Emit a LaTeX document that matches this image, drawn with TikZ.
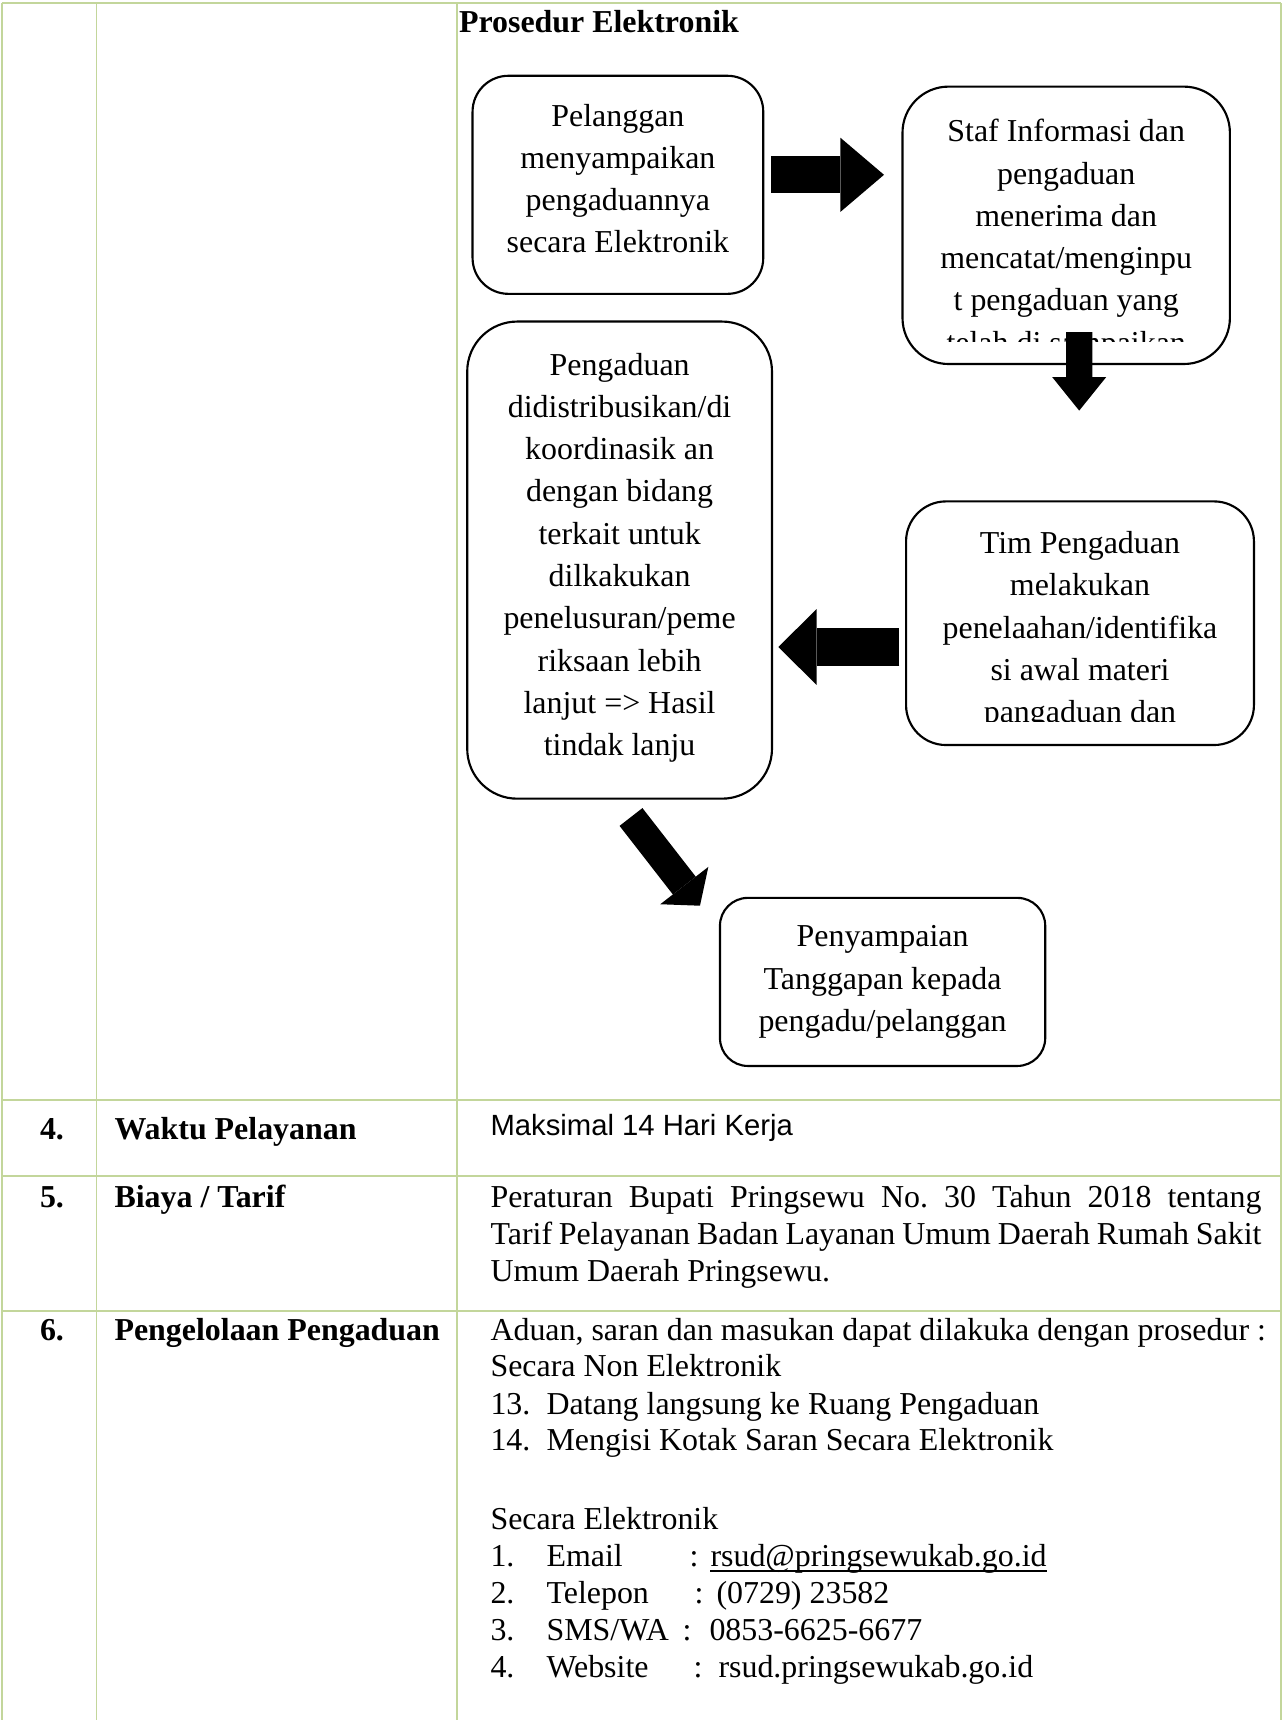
\documentclass[tikz,border=0pt]{standalone}
\usepackage{fontspec}
\setmainfont{Liberation Serif}
\newfontfamily\arialfont{Liberation Sans}
\usetikzlibrary{arrows.meta}
\definecolor{GridGreen}{HTML}{C3D69B}
\frenchspacing
\tikzset{
  gridline/.style={draw=GridGreen,line width=0.75pt},
  flowbox/.style={rectangle,draw=black,line width=0.8pt,inner sep=0pt,outer sep=0pt},
  boxtxt/.style={font=\fontsize{12}{15.9}\selectfont,align=center,anchor=base,inner sep=0pt},
  celltxt/.style={font=\fontsize{12}{14}\selectfont,anchor=base west,inner sep=0pt},
  cellhead/.style={celltxt,font=\fontsize{12}{14}\selectfont\bfseries},
  blockarr/.style={draw=black,line width=#1,line cap=butt},
}

\begin{document}
\begin{tikzpicture}[x=0.376pt,y=-0.376pt]
  \useasboundingbox (0,0) rectangle (1283,1720);

  % table grid
  \draw[gridline] (2,3) -- (1281,3);
  \draw[gridline] (2,1100) -- (1281,1100);
  \draw[gridline] (2,1176) -- (1281,1176);
  \draw[gridline] (2,1311) -- (1281,1311);
  \draw[gridline] (2,3) -- (2,1720);
  \draw[gridline] (96.5,3) -- (96.5,1720);
  \draw[gridline] (457,3) -- (457,1720);
  \draw[gridline] (1281,3) -- (1281,1720);

  \node[cellhead] (judul) at (458.5,32) {Prosedur Elektronik};

  % flow boxes (text nodes sit on their last baseline)
  \node[flowbox,rounded corners=13.5pt,minimum width=109.3pt,minimum height=82pt] (pel) at (617.9,184.8) {};
  \node[flowbox,rounded corners=17.3pt,minimum width=123.1pt,minimum height=104.3pt] (staf) at (1066.2,225.3) {};
  \node[flowbox,rounded corners=15pt,minimum width=130.8pt,minimum height=91.6pt] (tim) at (1080,623.2) {};
  \node[flowbox,rounded corners=18.8pt,minimum width=114.6pt,minimum height=179.4pt] (dist) at (619.6,560.1) {};
  \node[flowbox,rounded corners=10.5pt,minimum width=122.3pt,minimum height=63.2pt] (resp) at (882.6,981.9) {};

  \node[boxtxt] (pel-t) at (617.9,252.9) {Pelanggan\\menyampaikan\\pengaduannya\\secara Elektronik};
  \begin{scope}
    \clip (staf.north west) rectangle (staf.east |- 0,341.5);
    \node[boxtxt] (staf-t) at (1066.2,353.2) {Staf Informasi dan\\pengaduan\\menerima dan\\mencatat/menginpu\\t pengaduan yang\\telah di sampaikan};
  \end{scope}
  \begin{scope}
    \clip (tim.north west) rectangle (tim.east |- 0,721.5);
    \node[boxtxt] (tim-t) at (1080,722.7) {Tim Pengaduan\\melakukan\\penelaahan/identifika\\si awal materi\\pangaduan dan};
  \end{scope}
  \node[boxtxt] (dist-t) at (619.6,755.7) {Pengaduan\\didistribusikan/di\\koordinasik an\\dengan bidang\\terkait untuk\\dilkakukan\\penelusuran/peme\\riksaan lebih\\lanjut => Hasil\\tindak lanju};
  \node[boxtxt] (resp-t) at (882.6,1031.3) {Penyampaian\\Tanggapan kepada\\pengadu/pelanggan};

  % block arrows
  \draw[blockarr=14pt,-{Triangle[length=16.4pt,width=27.9pt,line width=0pt]}]
    ([shift={(8.2,-10)}]pel.east) -- ([shift={(-18.5,-50.5)}]staf.west);
  \draw[blockarr=9.9pt,-{Triangle[length=12.6pt,width=20.3pt,line width=0pt]}]
    ([shift={(13,-32)}]staf.south) -- ([shift={(-0.8,-90.8)}]tim.north);
  \draw[blockarr=14.2pt,-{Triangle[length=14.4pt,width=28.5pt,line width=0pt]}]
    ([shift={(-6.7,23.8)}]tim.west) -- ([shift={(6.3,86.9)}]dist.east);
  \draw[blockarr=10.9pt,-{Triangle[length=9.6pt,width=22.9pt,line width=0pt]}]
    ([shift={(11.4,18.3)}]dist.south) -- ([shift={(-20,-76.2)}]resp.west);

  % row 4
  \node[cellhead] (no4) at (39.5,1139.5) {4.};
  \node[cellhead] (waktu) at (114,1139.5) {Waktu Pelayanan};
  \node[celltxt,font=\fontsize{11}{13}\selectfont\arialfont] (waktu-v) at (490,1135.5) {Maksimal 14 Hari Kerja};

  % row 5
  \node[cellhead] (no5) at (39.5,1207.5) {5.};
  \node[cellhead] (biaya) at (114,1207.5) {Biaya / Tarif};
  \node[celltxt,align=left] (biaya-v) at (490,1281.9)
    {\makebox[289.9pt][s]{Peraturan Bupati Pringsewu No. 30 Tahun 2018 tentang}\\
     \makebox[289.9pt][s]{Tarif Pelayanan Badan Layanan Umum Daerah Rumah Sakit}\\
     Umum Daerah Pringsewu.};

  % row 6
  \node[cellhead] (no6) at (39.5,1340.7) {6.};
  \node[cellhead] (kelola) at (114,1340.7) {Pengelolaan Pengaduan};
  \node[celltxt] (aduan) at (490,1340.7) {Aduan, saran dan masukan dapat dilakuka dengan prosedur :};
  \node[celltxt] (nonel) at (490,1376.9) {Secara Non Elektronik};
  \node[celltxt] (n13) at (490,1414.2) {13.};
  \node[celltxt] (datang) at (546,1414.2) {Datang langsung ke Ruang Pengaduan};
  \node[celltxt] (n14) at (490,1450.3) {14.};
  \node[celltxt] (kotak) at (546,1450.3) {Mengisi Kotak Saran Secara Elektronik};
  \node[celltxt] (elek) at (490,1529.5) {Secara Elektronik};
  \node[celltxt] (n1) at (490,1566.6) {1.};
  \node[celltxt] (email) at (546,1566.6) {Email};
  \node[celltxt] (email-c) at (689,1566.6) {:};
  \node[celltxt] (email-v) at (710,1566.6) {rsud@pringsewukab.go.id};
  \draw[line width=0.6pt] ([yshift=-1.6pt]email-v.base west) -- ([yshift=-1.6pt]email-v.base east);
  \node[celltxt] (n2) at (490,1603.6) {2.};
  \node[celltxt] (telp) at (546,1603.6) {Telepon};
  \node[celltxt] (telp-c) at (694,1603.6) {:};
  \node[celltxt] (telp-v) at (716,1603.6) {(0729) 23582};
  \node[celltxt] (n3) at (490,1640) {3.};
  \node[celltxt] (sms) at (546,1640) {SMS/WA};
  \node[celltxt] (sms-c) at (682,1640) {:};
  \node[celltxt] (sms-v) at (709,1640) {0853-6625-6677};
  \node[celltxt] (n4) at (490,1677) {4.};
  \node[celltxt] (web) at (546,1677) {Website};
  \node[celltxt] (web-c) at (693,1677) {:};
  \node[celltxt] (web-v) at (718,1677) {rsud.pringsewukab.go.id};

\end{tikzpicture}
\end{document}
